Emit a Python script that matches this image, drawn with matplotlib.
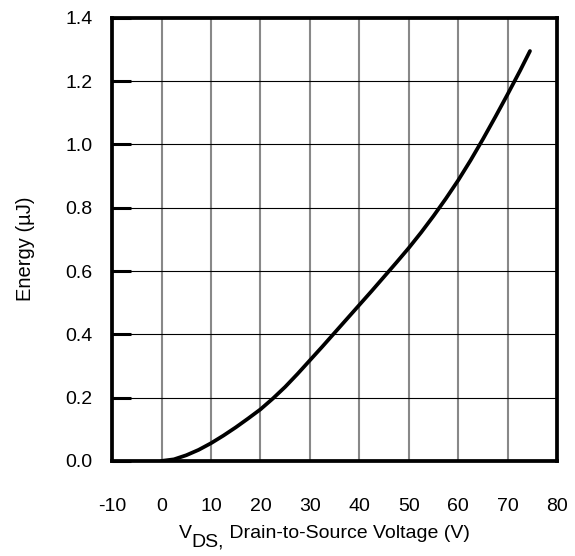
import numpy as np
import matplotlib
matplotlib.use("Agg")
import matplotlib.pyplot as plt

# valores
vds = [0, 2.5, 5, 7.5, 10, 12.5, 15, 17.5, 20, 22.5, 25, 27.5, 30, 32.5, 35, 37.5,
       40, 42.5, 45, 47.5, 50, 52.5, 55, 57.5, 60, 62.5, 65, 67.5, 70, 72.5, 74.5]
energia = [0.0, 0.005, 0.018, 0.035, 0.056, 0.080, 0.106, 0.134, 0.163, 0.197, 0.234, 0.275,
           0.318, 0.361, 0.405, 0.449, 0.493, 0.537, 0.582, 0.627, 0.673, 0.722, 0.774,
           0.829, 0.887, 0.950, 1.017, 1.087, 1.159, 1.233, 1.295]

x_ticks = [-10, 0, 10, 20, 30, 40, 50, 60, 70, 80]
y_ticks = [0.0, 0.2, 0.4, 0.6, 0.8, 1.0, 1.2, 1.4]

plt.rcParams['font.family'] = ['Liberation Sans', 'DejaVu Sans']

fig = plt.figure(figsize=(5.75, 5.56), dpi=100)
ax = fig.add_axes([0.195, 0.171, 0.774, 0.797])

# grade: verticais cinza, horizontais pretas
for xv in x_ticks[1:-1]:
    ax.axvline(xv, color='#888888', lw=1.5, zorder=1)
for yv in y_ticks[1:-1]:
    ax.axhline(yv, color='black', lw=0.8, zorder=1)

ax.plot(vds, energia, color='black', lw=2.7, solid_capstyle='round',
        solid_joinstyle='round', zorder=3)

ax.set_xlim(-10, 80)
ax.set_ylim(0, 1.4)
ax.set_xticks(x_ticks)
ax.set_yticks(y_ticks)
ax.set_xticklabels([str(v) for v in x_ticks])
ax.set_yticklabels(['%.1f' % v for v in y_ticks])

ax.tick_params(axis='x', length=0, pad=27, labelsize=14)
ax.tick_params(axis='y', direction='in', length=14, width=2.2, pad=14, labelsize=14)

for s in ax.spines.values():
    s.set_linewidth(2.7)
    s.set_zorder(4)

# rótulos dos eixos
fig.text(0.0435, 0.552, 'Energy (µJ)', rotation=90, ha='center', va='center', fontsize=14.5)

t1 = fig.text(0.311, 0.032, 'V', ha='left', va='baseline', fontsize=14)
t2 = ax.annotate('DS,', xy=(1, 0), xycoords=t1, xytext=(0, -6), textcoords='offset points',
                 ha='left', va='bottom', fontsize=14)
t3 = ax.annotate(' Drain-to-Source Voltage (V)', xy=(1, 0), xycoords=t2, xytext=(0, 6),
                 textcoords='offset points', ha='left', va='bottom', fontsize=14)

fig.savefig('out.png', dpi=100)
